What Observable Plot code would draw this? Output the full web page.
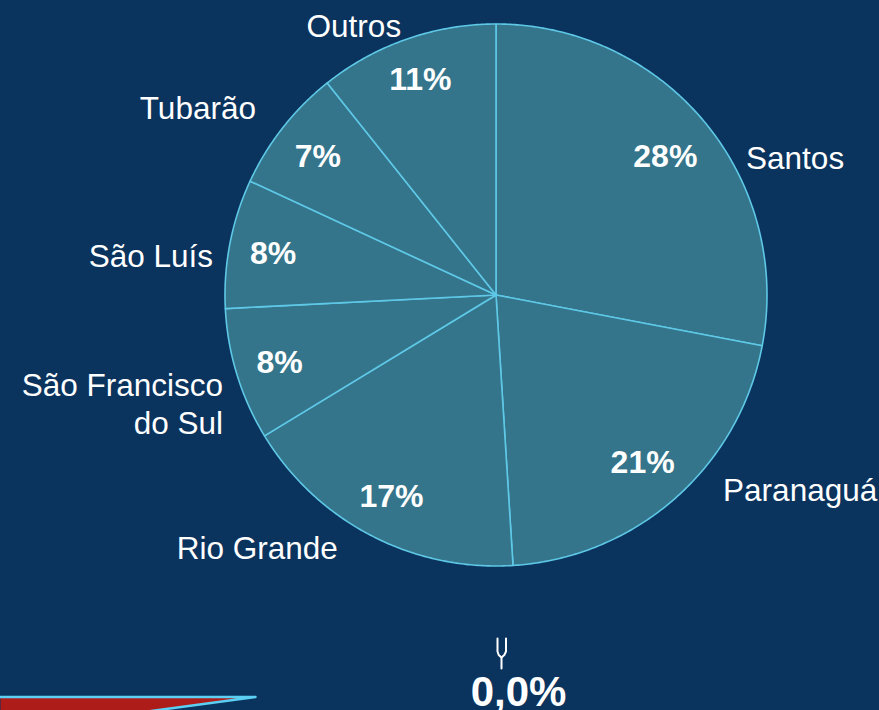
<!DOCTYPE html>
<html>
<head>
<meta charset="utf-8">
<script src="https://cdn.jsdelivr.net/npm/d3@7"></script>
<script src="https://cdn.jsdelivr.net/npm/@observablehq/plot@0.6"></script>
<style>
  html, body { margin: 0; padding: 0; background: #0a335e; overflow: hidden; }
  #chart svg { display: block; }
</style>
</head>
<body>
<div id="chart"></div>
<script>
// ---- data ----
const categories = ["Santos", "Paranaguá", "Rio Grande", "São Francisco\ndo Sul", "São Luís", "Tubarão", "Outros"];
const shares = [28.0, 21.0, 17.3, 7.9, 7.7, 7.4, 10.7];          // % share
const shareLabels = ["28%", "21%", "17%", "8%", "8%", "7%", "11%"];
const gaugeValue = 0.0;

// ---- layout (not data) ----
const W = 879, H = 710;
const cx = 495.5, cy = 294.5, R = 271;
const font = "'Liberation Sans', Arial, sans-serif";
const bg = "#0a335e", sliceFill = "#34758b", edge = "#5ec8e6";
// outer label placement tweak relative to each slice's mid angle: [angle nudge (deg), distance in radii]
const outerNudge = [[10.7, 1.054], [-8.1, 1.102], [4.6, 1.097], [-4.5, 1.083], [-2.8, 1.055], [-0.1, 1.125], [-0.1, 1.056]];

const total = d3.sum(shares);
const cum = d3.cumsum(shares);
const rad = d => d * Math.PI / 180;
const px = (a, r) => cx + r * Math.sin(a);
const py = (a, r) => cy - r * Math.cos(a);

// slice polygons
const slicePts = [];
shares.forEach((v, i) => {
  const a0 = (i === 0 ? 0 : cum[i - 1]) / total * 2 * Math.PI;
  const a1 = cum[i] / total * 2 * Math.PI;
  slicePts.push({slice: i, x: cx, y: cy});
  const n = Math.max(4, Math.ceil((a1 - a0) / rad(0.5)));
  for (let k = 0; k <= n; k++) {
    const a = a0 + (a1 - a0) * k / n;
    slicePts.push({slice: i, x: px(a, R), y: py(a, R)});
  }
  slicePts.push({slice: i, x: cx, y: cy});
});

// inner percentage labels: outer corner of label box sits just inside the rim
const pctSize = 32;
const inner = shares.map((v, i) => {
  const mid = ((i === 0 ? 0 : cum[i - 1]) + cum[i]) / 2 / total * 2 * Math.PI;
  const s = shareLabels[i];
  let w = 0;
  for (const ch of s) w += ch === "%" ? 0.889 : 0.556;
  const hw = w * pctSize / 2, hh = 0.358 * pctSize;
  const a = Math.sin(mid), b = -Math.cos(mid);
  const p = Math.sign(a) * hw, q = Math.sign(b) * hh;
  const D = R - 19;
  const k = a * p + b * q;
  const t = -k + Math.sqrt(k * k - (p * p + q * q - D * D));
  return {x: cx + t * a, y: cy + t * b + 1.5, text: s};
});

// outer category labels
const outer = categories.map((c, i) => {
  const midDeg = ((i === 0 ? 0 : cum[i - 1]) + cum[i]) / 2 / total * 360;
  const ang = rad(midDeg + outerNudge[i][0]);
  const r = outerNudge[i][1] * R;
  return {x: px(ang, r), y: py(ang, r), text: c, side: midDeg < 180 ? "right" : "left"};
});

// decorative partial elements at the bottom (part of a neighbouring graphic)
const wedge = [{x: 0, y: 697}, {x: 250, y: 697}, {x: 147, y: 711}, {x: 0, y: 711}];
const wedgeEdge = [{x: 0, y: 696.5}, {x: 255, y: 696.5}, {x: 147, y: 711}];
const fork = [
  {g: 0, x: 497, y: 638}, {g: 0, x: 497, y: 651}, {g: 0, x: 498.2, y: 654.5}, {g: 0, x: 501, y: 657},
  {g: 0, x: 503.8, y: 654.5}, {g: 0, x: 505.5, y: 651}, {g: 0, x: 505.5, y: 638},
  {g: 1, x: 501, y: 657}, {g: 1, x: 501, y: 668}
];
const fmt = v => v.toFixed(1).replace(".", ",") + "%";

const chart = Plot.plot({
  width: W,
  height: H,
  margin: 0,
  x: {domain: [0, W], axis: null},
  y: {domain: [0, H], reverse: true, axis: null},
  style: {background: bg, fontFamily: font},
  marks: [
    Plot.line(slicePts, {x: "x", y: "y", z: "slice", fill: sliceFill, stroke: edge, strokeWidth: 1.6, strokeLinejoin: "round"}),
    Plot.text(inner, {x: "x", y: "y", text: "text", fill: "white", fontSize: pctSize, fontWeight: "bold", fontFamily: font, lineAnchor: "middle"}),
    Plot.text(outer.filter(d => d.side === "right"), {x: "x", y: "y", text: "text", fill: "white", fontSize: 31.5, fontFamily: font, textAnchor: "start", lineAnchor: "middle", lineHeight: 1.21}),
    Plot.text(outer.filter(d => d.side === "left"), {x: "x", y: "y", text: "text", fill: "white", fontSize: 31.5, fontFamily: font, textAnchor: "end", lineAnchor: "middle", lineHeight: 1.21}),
    Plot.line(wedge, {x: "x", y: "y", fill: "#ae1c1a", stroke: "none"}),
    Plot.line(wedgeEdge, {x: "x", y: "y", stroke: "#5cd0f2", strokeWidth: 2.5}),
    Plot.line(fork, {x: "x", y: "y", z: "g", stroke: "white", strokeWidth: 2, curve: "linear"}),
    Plot.text([gaugeValue], {x: () => 518, y: () => 692.5, text: d => fmt(d), fill: "white", fontSize: 42, fontWeight: "bold", fontFamily: font, lineAnchor: "middle"})
  ]
});
document.getElementById("chart").appendChild(chart);
</script>
</body>
</html>
